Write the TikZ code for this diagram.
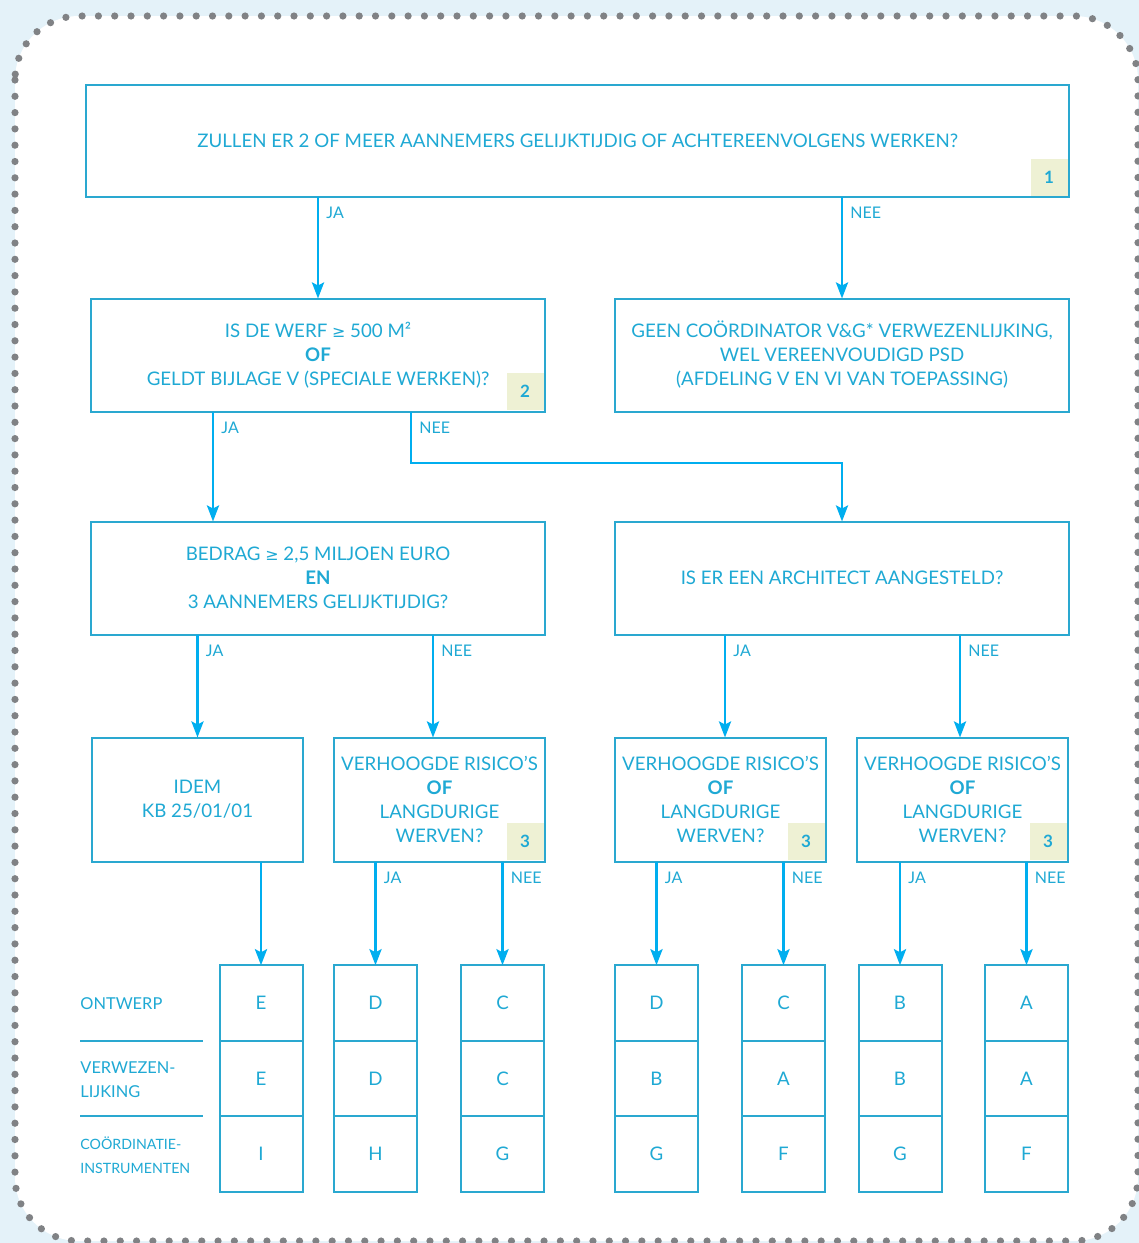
\documentclass[tikz,border=0pt]{standalone}
\usepackage{fontspec}
\setmainfont{Lato}
\newfontfamily\symfont{DejaVu Sans}[Scale=0.85]
\usetikzlibrary{arrows.meta,positioning}

\definecolor{bgblue}{HTML}{E4F2F9}
\definecolor{dotgray}{HTML}{808285}
\definecolor{txtblue}{HTML}{1FA9D4}
\definecolor{boxblue}{HTML}{2AA8D0}
\definecolor{arrowblue}{HTML}{00AEEF}
\definecolor{tagfill}{HTML}{EEF1D4}

\newcommand{\gesym}{{\symfont ≥}}

\begin{document}
\begin{tikzpicture}[x=0.5pt,y=-0.5pt]
	\tikzset{
		boxstyle/.style={draw=boxblue, line width=1pt, text=txtblue, align=center, inner sep=0pt, outer sep=0pt, font=\fontsize{9.35}{12}\selectfont},
		bigbox/.style={boxstyle, minimum width=491.5pt, minimum height=56pt},
		midbox/.style={boxstyle, minimum width=227pt, minimum height=56.5pt},
		smallbox/.style={boxstyle, minimum width=105.5pt, minimum height=62pt},
		cellstyle/.style={boxstyle, minimum width=41.5pt, minimum height=37.75pt},
		tagstyle/.style={fill=tagfill, text=txtblue, inner sep=0pt, minimum size=18.5pt, anchor=south east, font=\bfseries\fontsize{8.5}{8.5}\selectfont},
		arrow/.style={-{Stealth[length=8pt, width=6pt, inset=1.5pt]}, draw=arrowblue, line width=1.4pt},
		answer/.style={at start, anchor=west, xshift=3.5pt, yshift=-8pt, inner sep=0pt, text=txtblue, font=\fontsize{8}{9}\selectfont},
		rowlabel/.style={anchor=west, align=left, inner sep=0pt, text=txtblue, font=\fontsize{8.2}{12}\selectfont},
		sepline/.style={draw=boxblue, line width=1pt},
	}

	\useasboundingbox (0,0) rectangle (1139,1243);
	\fill[bgblue] (0,0) rectangle (1139,1243);
	\draw[fill=white, draw=dotgray, line width=3.6pt, line cap=round, dash pattern=on 0pt off 8.15pt, rounded corners=32pt]
		(15,16) rectangle (1138,1241);

	% question boxes
	\node[bigbox] (q1) at (577.5,141) {ZULLEN ER 2 OF MEER AANNEMERS GELIJKTIJDIG OF ACHTEREENVOLGENS WERKEN?};
	\node[tagstyle] (t1) at ([shift={(-1,-1)}]q1.south east) {1};

	\node[midbox] (q2) at (318,355) {IS DE WERF \gesym{} 500 M²\\\textbf{OF}\\GELDT BIJLAGE V (SPECIALE WERKEN)?};
	\node[tagstyle] (t2) at ([shift={(-1,-1)}]q2.south east) {2};

	\node[midbox] (geen) at (842,355) {GEEN COÖRDINATOR V\&G* VERWEZENLIJKING,\\WEL VEREENVOUDIGD PSD\\(AFDELING V EN VI VAN TOEPASSING)};

	\node[midbox] (q3) at (318,578) {BEDRAG \gesym{} 2,5 MILJOEN EURO\\\textbf{EN}\\3 AANNEMERS GELIJKTIJDIG?};
	\node[midbox] (arch) at (842,578) {IS ER EEN ARCHITECT AANGESTELD?};

	\node[smallbox] (idem) at (197.5,799.5) {IDEM\\KB 25/01/01};
	\node[smallbox] (r1) at (439.5,799.5) {VERHOOGDE RISICO’S\\\textbf{OF}\\LANGDURIGE\\WERVEN?};
	\node[tagstyle] (t3a) at ([shift={(-1,-1)}]r1.south east) {3};
	\node[smallbox] (r2) at (720.5,799.5) {VERHOOGDE RISICO’S\\\textbf{OF}\\LANGDURIGE\\WERVEN?};
	\node[tagstyle] (t3b) at ([shift={(-1,-1)}]r2.south east) {3};
	\node[smallbox] (r3) at (962.5,799.5) {VERHOOGDE RISICO’S\\\textbf{OF}\\LANGDURIGE\\WERVEN?};
	\node[tagstyle] (t3c) at ([shift={(-1,-1)}]r3.south east) {3};

	% result columns
	\foreach \cx/\ca/\cb/\cc [count=\i] in {261/E/E/I, 375.5/D/D/H, 502.5/C/C/G, 656.5/D/B/G, 783.5/C/A/F, 900/B/B/G, 1026.5/A/A/F}
		{
			\node[cellstyle] (cell-\i-1) at (\cx,1003) {\ca};
			\node[cellstyle, below=0pt of cell-\i-1] (cell-\i-2) {\cb};
			\node[cellstyle, below=0pt of cell-\i-2] (cell-\i-3) {\cc};
		}

	\node[rowlabel] (ontwerp) at (80,1004) {ONTWERP};
	\node[rowlabel] (verw) at (80,1080) {VERWEZEN-\\LIJKING};
	\node[rowlabel, font=\fontsize{7.1}{12}\selectfont] (coord) at (80,1155) {COÖRDINATIE-\\INSTRUMENTEN};
	\draw[sepline] (80,1041) -- (203,1041);
	\draw[sepline] (80,1116) -- (203,1116);

	% arrows
	\draw[arrow] (q1.south -| q2) -- node[answer] {JA} (q2.north);
	\draw[arrow] (q1.south -| geen) -- node[answer] {NEE} (geen.north);

	\draw[arrow] (q2.south -| 213,0) -- node[answer] {JA} (q3.north -| 213,0);
	\draw[arrow] (q2.south -| 411,0) -- node[answer] {NEE} (411,463) -| (arch.north);

	\draw[arrow] (q3.south -| idem) -- node[answer] {JA} (idem.north);
	\draw[arrow] (q3.south -| 433,0) -- node[answer] {NEE} (r1.north -| 433,0);
	\draw[arrow] (arch.south -| 725,0) -- node[answer] {JA} (r2.north -| 725,0);
	\draw[arrow] (arch.south -| 960,0) -- node[answer] {NEE} (r3.north -| 960,0);

	\draw[arrow] (idem.south -| cell-1-1) -- (cell-1-1.north);
	\draw[arrow] (r1.south -| cell-2-1) -- node[answer] {JA} (cell-2-1.north);
	\draw[arrow] (r1.south -| cell-3-1) -- node[answer] {NEE} (cell-3-1.north);
	\draw[arrow] (r2.south -| cell-4-1) -- node[answer] {JA} (cell-4-1.north);
	\draw[arrow] (r2.south -| cell-5-1) -- node[answer] {NEE} (cell-5-1.north);
	\draw[arrow] (r3.south -| cell-6-1) -- node[answer] {JA} (cell-6-1.north);
	\draw[arrow] (r3.south -| cell-7-1) -- node[answer] {NEE} (cell-7-1.north);
\end{tikzpicture}
\end{document}
